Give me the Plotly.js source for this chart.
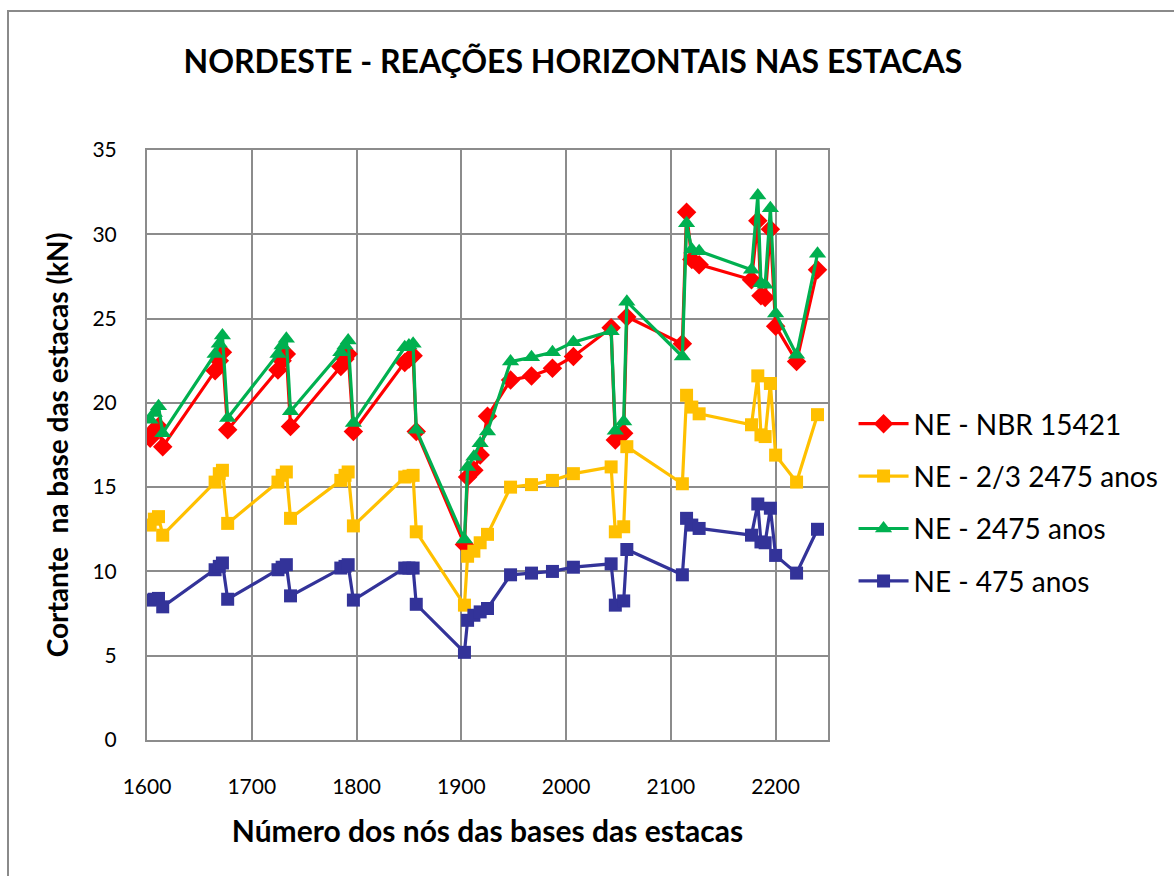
<!DOCTYPE html>
<html>
<head>
<meta charset="utf-8">
<script src="https://cdn.plot.ly/plotly-3.0.1.min.js"></script>
<style>
  html, body { margin: 0; padding: 0; background: #ffffff; overflow: hidden; }
  #chart { width: 1174px; height: 876px; position: absolute; left: 0; top: 0; }
  #frame { position: absolute; left: 7px; top: 10px; width: 1180px; height: 880px;
           border: 2px solid #8a8a8a; box-sizing: border-box; pointer-events: none; }
</style>
</head>
<body>
<div id="chart"></div>
<div id="frame"></div>
<script>
// Node numbers of the pile bases (x)
const nodes = [
  1603, 1607, 1611, 1615,
  1665, 1669, 1672, 1677,
  1725, 1729, 1733, 1737,
  1785, 1789, 1792, 1797,
  1846, 1850, 1854, 1857,
  1903,
  1906, 1912, 1918, 1925,
  1947, 1967, 1987, 2007, 2043,
  2047, 2055, 2058,
  2111, 2115, 2120, 2127,
  2177, 2183, 2186, 2190, 2195, 2200, 2220, 2240
];

// NE - NBR 15421
const nbr15421 = [
  17.9, 18.4, 18.6, 17.4,
  21.9, 22.5, 23.0, 18.4,
  21.95, 22.5, 22.9, 18.6,
  22.15, 22.6, 22.9, 18.3,
  22.4, 22.6, 22.8, 18.3,
  11.6,
  15.6, 16.0, 16.9, 19.2,
  21.35, 21.6, 22.05, 22.75, 24.45,
  17.8, 18.2, 25.1,
  23.5, 31.3, 28.5, 28.2,
  27.3, 30.8, 26.35, 26.25, 30.3, 24.55, 22.45, 27.9
];

// NE - 2/3 2475 anos
const twoThirds2475 = [
  12.75, 13.1, 13.25, 12.15,
  15.3, 15.8, 16.0, 12.85,
  15.3, 15.7, 15.9, 13.15,
  15.4, 15.7, 15.9, 12.7,
  15.6, 15.65, 15.7, 12.35,
  8.0,
  10.9, 11.2, 11.7, 12.2,
  15.0, 15.15, 15.4, 15.8, 16.2,
  12.35, 12.65, 17.4,
  15.2, 20.45, 19.75, 19.35,
  18.7, 21.6, 18.1, 18.0, 21.15, 16.9, 15.3, 19.3
];

// NE - 2475 anos
const ne2475 = [
  19.0, 19.4, 19.8, 18.2,
  22.9, 23.5, 24.0, 19.1,
  22.9, 23.4, 23.8, 19.5,
  23.0, 23.4, 23.7, 18.8,
  23.3, 23.4, 23.5, 18.4,
  11.9,
  16.2, 16.8, 17.6, 18.3,
  22.45, 22.7, 23.0, 23.6, 24.25,
  18.35, 18.9, 26.0,
  22.75, 30.65, 29.1, 29.0,
  27.9, 32.3, 27.1, 27.0, 31.55, 25.3, 22.85, 28.85
];

// NE - 475 anos
const ne475 = [
  8.3, 8.35, 8.4, 7.9,
  10.1, 10.3, 10.5, 8.35,
  10.1, 10.25, 10.4, 8.55,
  10.2, 10.3, 10.4, 8.3,
  10.2, 10.2, 10.2, 8.05,
  5.2,
  7.1, 7.4, 7.6, 7.8,
  9.8, 9.9, 10.0, 10.25, 10.45,
  8.0, 8.25, 11.3,
  9.8, 13.15, 12.75, 12.55,
  12.15, 14.0, 11.75, 11.7, 13.75, 10.95, 9.9, 12.5
];

const seriesNames = ["NE - NBR 15421", "NE - 2/3 2475 anos", "NE - 2475 anos", "NE - 475 anos"];
const xTicks = [1600, 1700, 1800, 1900, 2000, 2100, 2200];
const yTicks = [0, 5, 10, 15, 20, 25, 30, 35];

const FONT = "Lato, 'Open Sans', sans-serif";

function trace(name, y, color, symbol, size, group) {
  return {
    type: "scatter", mode: "lines+markers", name: name, x: nodes, y: y,
    legendgroup: group,
    line: { color: color, width: 3.2 },
    marker: { color: color, symbol: symbol, size: size }
  };
}

const data = [
  trace(seriesNames[0], nbr15421, "#FF0000", "diamond", 15, "a"),
  trace(seriesNames[1], twoThirds2475, "#FFC000", "square", 13, "b"),
  trace(seriesNames[2], ne2475, "#00B050", "triangle-up", 15, "c"),
  trace(seriesNames[3], ne475, "#333399", "square", 13, "d")
];

const layout = {
  width: 1174, height: 876,
  paper_bgcolor: "#ffffff", plot_bgcolor: "#ffffff",
  margin: { l: 147, r: 345, t: 150, b: 136, pad: 0 },
  font: { family: FONT, color: "#000000", size: 20 },
  title: {
    text: "<b>NORDESTE - REAÇÕES HORIZONTAIS NAS ESTACAS</b>",
    font: { family: FONT, size: 32, color: "#000000" },
    xref: "container", yref: "container",
    x: 0.488, xanchor: "center", y: 1 - 62 / 876, yanchor: "middle"
  },
  xaxis: {
    range: [1600, 2250], tickvals: xTicks, ticktext: xTicks.map(String),
    showgrid: true, gridcolor: "#8c8c8c", gridwidth: 2,
    showline: true, linecolor: "#8c8c8c", linewidth: 2, mirror: true,
    zeroline: false,
    ticks: "outside", ticklen: 27, tickcolor: "rgba(0,0,0,0)",
    tickfont: { family: FONT, size: 21, color: "#000" },
    title: { text: "<b>Número dos nós das bases das estacas</b>", font: { family: FONT, size: 30, color: "#000" }, standoff: 24 }
  },
  yaxis: {
    range: [0, 35], tickvals: yTicks, ticktext: yTicks.map(String),
    showgrid: true, gridcolor: "#8c8c8c", gridwidth: 2,
    showline: true, linecolor: "#8c8c8c", linewidth: 2, mirror: true,
    zeroline: false,
    ticks: "outside", ticklen: 24, tickcolor: "rgba(0,0,0,0)",
    tickfont: { family: FONT, size: 21, color: "#000" },
    title: { text: "<b>Cortante  na base das estacas (kN)</b>", font: { family: FONT, size: 28, color: "#000" }, standoff: 16 }
  },
  showlegend: true,
  legend: {
    x: 1.036, xanchor: "left", y: (740 - 399) / 590, yanchor: "top",
    font: { family: FONT, size: 28, color: "#000" },
    bgcolor: "rgba(0,0,0,0)", borderwidth: 0,
    traceorder: "grouped", tracegroupgap: 13, itemwidth: 50
  }
};

Plotly.newPlot("chart", data, layout, { displayModeBar: false, staticPlot: true });
</script>
</body>
</html>
